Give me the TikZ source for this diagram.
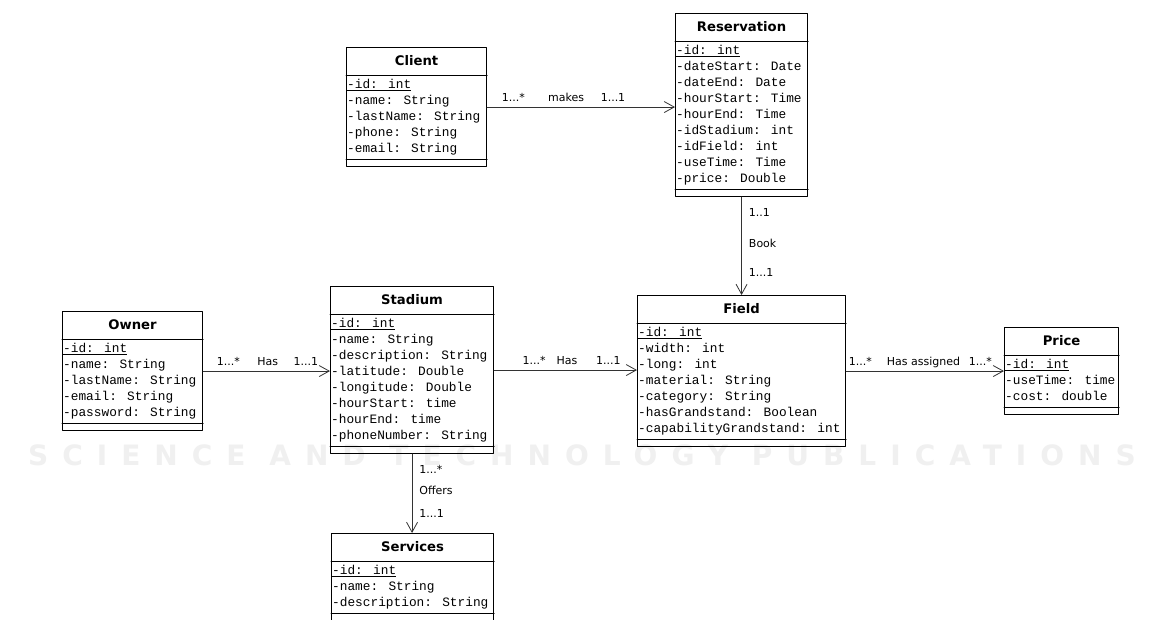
\documentclass[tikz,border=0pt]{standalone}
\usepackage{fontspec}
\newfontfamily\attrfont{Liberation Mono}
\newfontfamily\headfont{DejaVu Sans}
\newfontfamily\wmfont[LetterSpace=50]{DejaVu Sans}
\usetikzlibrary{arrows.meta,positioning}

\tikzset{
  classbox/.style={draw, line width=1.1pt, inner sep=0pt, anchor=north west},
  classtitle/.style={font=\headfont\bfseries\fontsize{13.2}{15}\selectfont, inner sep=0pt},
  attrlist/.style={anchor=north west, align=left, inner xsep=1pt, inner ysep=4pt,
    font=\attrfont\fontsize{12.8}{16}\selectfont},
  classline/.style={line width=1pt},
  assoc/.style={draw=black!80, line width=0.8pt, -{Straight Barb[length=10pt,width=11pt]}},
  mult/.style={font=\headfont\fontsize{11}{13}\selectfont, inner sep=0pt, anchor=base, yshift=6pt},
  vmult/.style={font=\headfont\fontsize{11}{13}\selectfont, inner sep=0pt, anchor=base west, xshift=7pt},
}

\begin{document}
\begin{tikzpicture}[x=1pt,y=-1pt,line cap=round,line join=round]
  \clip (0,0) rectangle (1164,619);
  \fill[white] (0,0) rectangle (1164,619);
  \node[font=\wmfont\bfseries\fontsize{28}{30}\selectfont, text=black!6, inner sep=0pt] (watermark) at (582,455) {SCIENCE AND TECHNOLOGY PUBLICATIONS};

  % Client
  \node[classbox, minimum width=140pt, minimum height=119pt] (client) at (346,47) {};
  \node[classtitle] (clienttitle) at ([yshift=-14pt]client.north) {Client};
  \node[attrlist] (clientattr) at ([yshift=-28pt]client.north west) {\underline{-id: int}\\-name: String\\-lastName: String\\-phone: String\\-email: String};
  \draw[classline] ([yshift=-28pt]client.north west) -- ([yshift=-28pt]client.north east);
  \draw[classline] ([yshift=8pt]client.south west) -- ([yshift=8pt]client.south east);

  % Reservation
  \node[classbox, minimum width=132pt, minimum height=183pt] (reservation) at (675,13) {};
  \node[classtitle] (reservationtitle) at ([yshift=-14pt]reservation.north) {Reservation};
  \node[attrlist] (reservationattr) at ([yshift=-28pt]reservation.north west) {\underline{-id: int}\\-dateStart: Date\\-dateEnd: Date\\-hourStart: Time\\-hourEnd: Time\\-idStadium: int\\-idField: int\\-useTime: Time\\-price: Double};
  \draw[classline] ([yshift=-28pt]reservation.north west) -- ([yshift=-28pt]reservation.north east);
  \draw[classline] ([yshift=8pt]reservation.south west) -- ([yshift=8pt]reservation.south east);

  % Owner
  \node[classbox, minimum width=140pt, minimum height=119pt] (owner) at (62,311) {};
  \node[classtitle] (ownertitle) at ([yshift=-14pt]owner.north) {Owner};
  \node[attrlist] (ownerattr) at ([yshift=-28pt]owner.north west) {\underline{-id: int}\\-name: String\\-lastName: String\\-email: String\\-password: String};
  \draw[classline] ([yshift=-28pt]owner.north west) -- ([yshift=-28pt]owner.north east);
  \draw[classline] ([yshift=8pt]owner.south west) -- ([yshift=8pt]owner.south east);

  % Stadium
  \node[classbox, minimum width=163pt, minimum height=167pt] (stadium) at (330,286) {};
  \node[classtitle] (stadiumtitle) at ([yshift=-14pt]stadium.north) {Stadium};
  \node[attrlist] (stadiumattr) at ([yshift=-28pt]stadium.north west) {\underline{-id: int}\\-name: String\\-description: String\\-latitude: Double\\-longitude: Double\\-hourStart: time\\-hourEnd: time\\-phoneNumber: String};
  \draw[classline] ([yshift=-28pt]stadium.north west) -- ([yshift=-28pt]stadium.north east);
  \draw[classline] ([yshift=8pt]stadium.south west) -- ([yshift=8pt]stadium.south east);

  % Field
  \node[classbox, minimum width=208pt, minimum height=151pt] (field) at (637,295) {};
  \node[classtitle] (fieldtitle) at ([yshift=-14pt]field.north) {Field};
  \node[attrlist] (fieldattr) at ([yshift=-28pt]field.north west) {\underline{-id: int}\\-width: int\\-long: int\\-material: String\\-category: String\\-hasGrandstand: Boolean\\-capabilityGrandstand: int};
  \draw[classline] ([yshift=-28pt]field.north west) -- ([yshift=-28pt]field.north east);
  \draw[classline] ([yshift=8pt]field.south west) -- ([yshift=8pt]field.south east);

  % Price
  \node[classbox, minimum width=114pt, minimum height=87pt] (price) at (1004,327) {};
  \node[classtitle] (pricetitle) at ([yshift=-14pt]price.north) {Price};
  \node[attrlist] (priceattr) at ([yshift=-28pt]price.north west) {\underline{-id: int}\\-useTime: time\\-cost: double};
  \draw[classline] ([yshift=-28pt]price.north west) -- ([yshift=-28pt]price.north east);
  \draw[classline] ([yshift=8pt]price.south west) -- ([yshift=8pt]price.south east);

  % Services
  \node[classbox, minimum width=162pt, minimum height=87pt] (services) at (331,533) {};
  \node[classtitle] (servicestitle) at ([yshift=-14pt]services.north) {Services};
  \node[attrlist] (servicesattr) at ([yshift=-28pt]services.north west) {\underline{-id: int}\\-name: String\\-description: String};
  \draw[classline] ([yshift=-28pt]services.north west) -- ([yshift=-28pt]services.north east);
  \draw[classline] ([yshift=8pt]services.south west) -- ([yshift=8pt]services.south east);

  % associations
  \draw[assoc] (client.east) -- (client.east -| reservation.west)
    node[mult, pos=0.14] (makes1) {1...*}
    node[mult, pos=0.42] (makes) {makes}
    node[mult, pos=0.67] (makes2) {1...1};
  \draw[assoc] (owner.east) -- (owner.east -| stadium.west)
    node[mult, pos=0.2] (has1) {1...*}
    node[mult, pos=0.51] (has) {Has}
    node[mult, pos=0.81] (has2) {1...1};
  \draw[assoc] (stadium.east) -- (stadium.east -| field.west)
    node[mult, pos=0.28] (hasf1) {1...*}
    node[mult, pos=0.51] (hasf) {Has}
    node[mult, pos=0.8] (hasf2) {1...1};
  \draw[assoc] (field.east) -- (field.east -| price.west)
    node[mult, pos=0.09] (assigned1) {1...*}
    node[mult, pos=0.49] (assigned) {Has assigned}
    node[mult, pos=0.85] (assigned2) {1...*};
  \draw[assoc] (reservation.south) -- (reservation.south |- field.north)
    node[vmult, pos=0.2] (book1) {1..1}
    node[vmult, pos=0.51] (book) {Book}
    node[vmult, pos=0.81] (book2) {1...1};
  \draw[assoc] (stadium.south) -- (stadium.south |- services.north)
    node[vmult, pos=0.24] (offers1) {1...*}
    node[vmult, pos=0.51] (offers) {Offers}
    node[vmult, pos=0.8] (offers2) {1...1};
\end{tikzpicture}
\end{document}
